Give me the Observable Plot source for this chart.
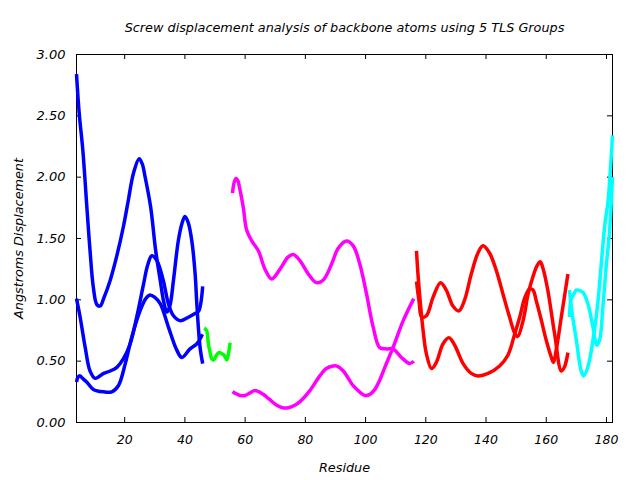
<!DOCTYPE html>
<html><head><meta charset="utf-8">
<script src="https://cdn.jsdelivr.net/npm/d3@7"></script>
<script src="https://cdn.jsdelivr.net/npm/@observablehq/plot@0.6"></script>
<style>body{margin:0;background:#fff}</style>
</head><body><div id="chart"></div>
<script>
const titleText = "Screw displacement analysis of backbone atoms using 5 TLS Groups";
const xLabel = "Residue";
const yLabel = "Angstroms Displacement";
const xTicks = [20, 40, 60, 80, 100, 120, 140, 160, 180];
const yTicks = [0, 0.5, 1, 1.5, 2, 2.5, 3];

// Group 1 (blue)
const blue1Res = [4, 4.9, 6.1, 7.6, 8.5, 9.6, 10.8, 11.9, 13, 15.2, 17.4, 19.6, 21.2, 22.9, 24.8, 25.8, 26.8, 28.6, 30.3, 31.8, 33, 34, 35, 36.2, 37.8, 39, 40, 41.1, 42.3, 43.4, 44, 45, 45.9];
const blue1Val = [2.84, 2.52, 2.22, 1.70, 1.40, 1.10, 0.96, 0.95, 1.01, 1.16, 1.36, 1.60, 1.81, 2.03, 2.15, 2.11, 2.00, 1.76, 1.40, 1.16, 0.98, 0.90, 0.95, 1.16, 1.48, 1.62, 1.68, 1.63, 1.48, 1.21, 0.95, 0.62, 0.48];
const blue2Res = [4, 5.2, 6.9, 8.5, 10.2, 13, 15.2, 17.4, 19.6, 21.8, 24, 26.2, 27.6, 29, 30.7, 32.8, 34.5, 36.2, 38.5, 41.3, 43.5, 44.6, 45.9];
const blue2Val = [1.01, 0.86, 0.61, 0.42, 0.36, 0.40, 0.42, 0.45, 0.52, 0.64, 0.86, 1.12, 1.28, 1.36, 1.32, 1.16, 0.97, 0.87, 0.83, 0.86, 0.89, 0.91, 1.11];
const blue3Res = [4, 4.5, 5.2, 6, 7.4, 9.6, 13, 15.7, 17.9, 20.2, 22.4, 25.1, 27, 28.4, 30, 31.8, 34.5, 37.3, 39, 41.7, 43.9, 45, 45.8];
const blue3Val = [0.33, 0.37, 0.38, 0.36, 0.33, 0.27, 0.25, 0.25, 0.30, 0.48, 0.70, 0.91, 1.01, 1.04, 1.02, 0.97, 0.78, 0.59, 0.53, 0.60, 0.64, 0.68, 0.72];

// Group 2 (green)
const greenRes = [46.4, 47.2, 47.8, 48.3, 48.9, 49.6, 50.5, 51.4, 52.3, 53, 53.9, 54.6, 55];
const greenVal = [0.77, 0.75, 0.64, 0.58, 0.52, 0.51, 0.55, 0.57, 0.56, 0.55, 0.51, 0.58, 0.65];

// Group 3 (magenta)
const magenta1Res = [55.8, 56.4, 57, 57.6, 58.1, 59.4, 60.5, 62.2, 64.4, 66.6, 68.8, 71.6, 74.3, 76, 78.2, 81, 83.7, 85.9, 88.7, 90.9, 93.7, 95.9, 98.1, 100.3, 102.5, 104.7, 107, 109.1, 111.9, 114.7, 116];
const magenta1Val = [1.87, 1.96, 1.99, 1.97, 1.92, 1.75, 1.57, 1.48, 1.40, 1.25, 1.17, 1.25, 1.35, 1.37, 1.32, 1.21, 1.14, 1.16, 1.29, 1.42, 1.48, 1.44, 1.29, 1.05, 0.78, 0.61, 0.60, 0.60, 0.53, 0.48, 0.50];
const magenta2Res = [55.8, 58.3, 60, 61.5, 63.3, 66, 68, 70.5, 72.5, 74.3, 76.5, 78.2, 81.5, 84.8, 87, 89.2, 90.5, 92.6, 95.9, 98, 99.8, 101.5, 103.1, 104.8, 106.4, 109.1, 112.5, 116];
const magenta2Val = [0.25, 0.22, 0.22, 0.24, 0.26, 0.23, 0.19, 0.14, 0.12, 0.12, 0.14, 0.17, 0.26, 0.38, 0.44, 0.46, 0.46, 0.42, 0.30, 0.25, 0.22, 0.23, 0.27, 0.35, 0.45, 0.61, 0.83, 1.01];

// Group 4 (red)
const red1Res = [116.9, 117.4, 118.2, 119.1, 120.2, 121.9, 123.5, 125.7, 127.7, 129.6, 132.4, 135.1, 137.3, 140.7, 144.5, 147.3, 149.5, 151.2, 152.9, 154.5, 155.6, 156.7, 158.4, 160, 161.7, 162.4, 163.3, 165, 167.2];
const red1Val = [1.40, 1.21, 0.97, 0.75, 0.56, 0.44, 0.49, 0.64, 0.69, 0.63, 0.48, 0.40, 0.38, 0.40, 0.46, 0.55, 0.72, 0.86, 1.02, 1.09, 1.08, 0.99, 0.83, 0.67, 0.53, 0.49, 0.59, 0.86, 1.21];
const red2Res = [116.9, 117.8, 118.6, 120.2, 122.4, 124.9, 126.8, 129, 131, 132.9, 135.1, 137.3, 139, 141.2, 143.4, 145.6, 147.8, 149.5, 150.5, 152.3, 154, 155.6, 157, 158, 159, 160.5, 162.8, 165, 166, 167.2];
const red2Val = [1.15, 0.98, 0.86, 0.87, 1.02, 1.14, 1.08, 0.95, 0.91, 1.00, 1.21, 1.38, 1.44, 1.38, 1.24, 1.05, 0.86, 0.73, 0.70, 0.83, 1.05, 1.19, 1.28, 1.31, 1.25, 1.08, 0.72, 0.42, 0.45, 0.57];

// Group 5 (cyan)
const cyan1Res = [167.7, 168.2, 168.8, 170, 170.5, 172.2, 173.8, 175.5, 176.8, 177.7, 178.8, 179.9, 181, 182];
const cyan1Val = [0.86, 1.00, 1.03, 1.08, 1.08, 1.06, 0.97, 0.78, 0.63, 0.67, 0.94, 1.27, 1.55, 2.00];
const cyan2Res = [167.7, 168.6, 170, 171.6, 172.4, 173.8, 175.5, 177.1, 178.3, 179.4, 180.5, 181.3, 182];
const cyan2Val = [1.08, 0.89, 0.67, 0.42, 0.38, 0.45, 0.67, 0.97, 1.30, 1.60, 1.80, 2.06, 2.34];

const series = [
  {res: blue1Res, val: blue1Val, color: "#0000ff"},
  {res: blue2Res, val: blue2Val, color: "#0000ff"},
  {res: blue3Res, val: blue3Val, color: "#0000ff"},
  {res: greenRes, val: greenVal, color: "#00ff00"},
  {res: magenta1Res, val: magenta1Val, color: "#ff00ff"},
  {res: magenta2Res, val: magenta2Val, color: "#ff00ff"},
  {res: red1Res, val: red1Val, color: "#ff0000"},
  {res: red2Res, val: red2Val, color: "#ff0000"},
  {res: cyan1Res, val: cyan1Val, color: "#00ffff"},
  {res: cyan2Res, val: cyan2Val, color: "#00ffff"}
];

const W = 640, H = 480, mL = 76, mR = 28, mT = 54, mB = 58;
const innerW = W - mL - mR, innerH = H - mT - mB, tk = 5;

const lineMarks = series.map(s =>
  Plot.line(s.res.map((r, i) => ({residue: r, value: s.val[i]})), {
    x: "residue", y: "value", stroke: s.color, strokeWidth: 3.5,
    curve: "catmull-rom", strokeLinejoin: "round", strokeLinecap: "butt"
  })
);

const chart = Plot.plot({
  width: W, height: H,
  marginLeft: mL, marginRight: mR, marginTop: mT, marginBottom: mB,
  x: {domain: [4, 182]},
  y: {domain: [0, 3]},
  style: {fontFamily: "DejaVu Sans", fontStyle: "italic", fontSize: "12.5px", background: "white", color: "black"},
  marks: [
    Plot.frame({stroke: "black", strokeWidth: 1}),
    Plot.tickX(xTicks, {x: d => d, insetTop: innerH - tk, stroke: "black"}),
    Plot.tickX(xTicks, {x: d => d, insetBottom: innerH - tk, stroke: "black"}),
    Plot.tickY(yTicks, {y: d => d, insetRight: innerW - tk, stroke: "black"}),
    Plot.tickY(yTicks, {y: d => d, insetLeft: innerW - tk, stroke: "black"}),
    ...lineMarks,
    Plot.axisX({ticks: xTicks, tickSize: 0, tickPadding: 13, label: null, fontSize: 12.5}),
    Plot.axisY({ticks: yTicks, tickSize: 0, tickPadding: 11, tickFormat: d3.format(".2f"), label: null, fontSize: 13}),
    Plot.text([titleText], {frameAnchor: "top", lineAnchor: "middle", textAnchor: "middle", dy: -27, fontSize: 12.8}),
    Plot.text([xLabel], {frameAnchor: "bottom", lineAnchor: "middle", textAnchor: "middle", dy: 45, fontSize: 12.8}),
    Plot.text([yLabel], {frameAnchor: "left", lineAnchor: "middle", textAnchor: "middle", dx: -58, rotate: -90, fontSize: 12.8})
  ]
});
document.getElementById("chart").appendChild(chart);
</script>
</body></html>
